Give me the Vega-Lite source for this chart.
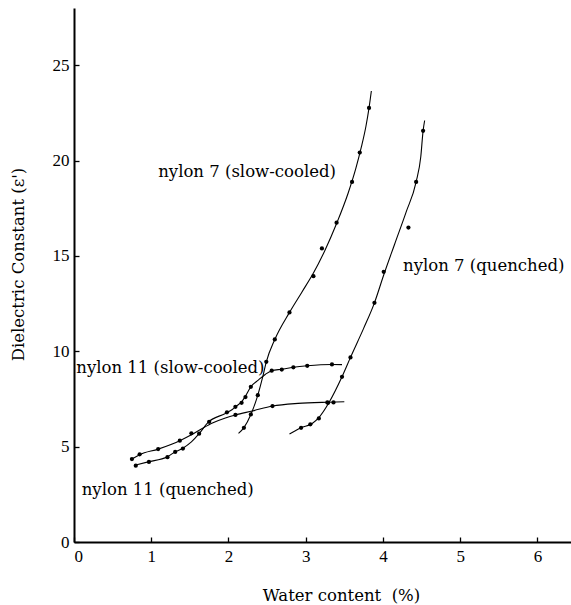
{
  "$schema": "https://vega.github.io/schema/vega-lite/v6.json",
  "width": 497,
  "height": 534,
  "autosize": "none",
  "padding": {"left": 74, "top": 8, "right": 0, "bottom": 63},
  "background": "white",
  "config": {
    "font": "DejaVu Serif",
    "view": {"stroke": null},
    "axis": {
      "grid": false,
      "domainColor": "black",
      "domainWidth": 2,
      "tickColor": "black",
      "tickWidth": 1.3,
      "labelColor": "black",
      "titleColor": "black",
      "labelFont": "Liberation Serif",
      "titleFont": "DejaVu Serif",
      "labelFontSize": 17,
      "titleFontSize": 16.5,
      "titleFontWeight": "normal"
    }
  },
  "datasets": {
    "curves": [
      {"series": "n11s", "x": 0.80, "y": 4.04}, {"series": "n11s", "x": 0.96, "y": 4.2}, {"series": "n11s", "x": 1.21, "y": 4.47}, {"series": "n11s", "x": 1.30, "y": 4.7}, {"series": "n11s", "x": 1.41, "y": 4.92}, {"series": "n11s", "x": 1.52, "y": 5.25}, {"series": "n11s", "x": 1.62, "y": 5.68}, {"series": "n11s", "x": 1.73, "y": 6.25}, {"series": "n11s", "x": 1.96, "y": 6.74}, {"series": "n11s", "x": 2.05, "y": 6.95}, {"series": "n11s", "x": 2.11, "y": 7.15}, {"series": "n11s", "x": 2.17, "y": 7.35}, {"series": "n11s", "x": 2.22, "y": 7.65}, {"series": "n11s", "x": 2.29, "y": 8.14}, {"series": "n11s", "x": 2.39, "y": 8.5}, {"series": "n11s", "x": 2.48, "y": 8.8}, {"series": "n11s", "x": 2.56, "y": 8.98}, {"series": "n11s", "x": 2.69, "y": 9.06}, {"series": "n11s", "x": 2.84, "y": 9.16}, {"series": "n11s", "x": 3.02, "y": 9.24}, {"series": "n11s", "x": 3.34, "y": 9.31}, {"series": "n11s", "x": 3.47, "y": 9.3},
      {"series": "n11q", "x": 0.75, "y": 4.35}, {"series": "n11q", "x": 0.85, "y": 4.58}, {"series": "n11q", "x": 1.09, "y": 4.87}, {"series": "n11q", "x": 1.37, "y": 5.31}, {"series": "n11q", "x": 1.52, "y": 5.62}, {"series": "n11q", "x": 1.66, "y": 5.95}, {"series": "n11q", "x": 1.8, "y": 6.25}, {"series": "n11q", "x": 1.96, "y": 6.5}, {"series": "n11q", "x": 2.09, "y": 6.66}, {"series": "n11q", "x": 2.31, "y": 6.87}, {"series": "n11q", "x": 2.57, "y": 7.13}, {"series": "n11q", "x": 2.9, "y": 7.27}, {"series": "n11q", "x": 3.28, "y": 7.33}, {"series": "n11q", "x": 3.5, "y": 7.35},
      {"series": "n7s", "x": 2.13, "y": 5.7}, {"series": "n7s", "x": 2.2, "y": 6.0}, {"series": "n7s", "x": 2.29, "y": 6.69}, {"series": "n7s", "x": 2.38, "y": 7.7}, {"series": "n7s", "x": 2.44, "y": 8.6}, {"series": "n7s", "x": 2.49, "y": 9.45}, {"series": "n7s", "x": 2.6, "y": 10.62}, {"series": "n7s", "x": 2.79, "y": 12.04}, {"series": "n7s", "x": 2.95, "y": 13.1}, {"series": "n7s", "x": 3.1, "y": 14.1}, {"series": "n7s", "x": 3.25, "y": 15.3}, {"series": "n7s", "x": 3.4, "y": 16.7}, {"series": "n7s", "x": 3.55, "y": 18.3}, {"series": "n7s", "x": 3.65, "y": 19.6}, {"series": "n7s", "x": 3.72, "y": 20.7}, {"series": "n7s", "x": 3.78, "y": 21.8}, {"series": "n7s", "x": 3.82, "y": 22.76}, {"series": "n7s", "x": 3.85, "y": 23.65},
      {"series": "n7q", "x": 2.79, "y": 5.66}, {"series": "n7q", "x": 2.94, "y": 5.99}, {"series": "n7q", "x": 3.08, "y": 6.2}, {"series": "n7q", "x": 3.17, "y": 6.52}, {"series": "n7q", "x": 3.3, "y": 7.3}, {"series": "n7q", "x": 3.47, "y": 8.66}, {"series": "n7q", "x": 3.58, "y": 9.68}, {"series": "n7q", "x": 3.75, "y": 11.2}, {"series": "n7q", "x": 3.89, "y": 12.54}, {"series": "n7q", "x": 4.01, "y": 14.0}, {"series": "n7q", "x": 4.15, "y": 15.6}, {"series": "n7q", "x": 4.3, "y": 17.3}, {"series": "n7q", "x": 4.43, "y": 18.88}, {"series": "n7q", "x": 4.49, "y": 20.2}, {"series": "n7q", "x": 4.52, "y": 21.56}, {"series": "n7q", "x": 4.54, "y": 22.1}
    ],
    "dots": [
      {"series": "n11s", "x": 0.80, "y": 4.0}, {"series": "n11s", "x": 0.97, "y": 4.2}, {"series": "n11s", "x": 1.21, "y": 4.45}, {"series": "n11s", "x": 1.31, "y": 4.72}, {"series": "n11s", "x": 1.41, "y": 4.9}, {"series": "n11s", "x": 1.62, "y": 5.68}, {"series": "n11s", "x": 1.75, "y": 6.3}, {"series": "n11s", "x": 1.98, "y": 6.8}, {"series": "n11s", "x": 2.09, "y": 7.09}, {"series": "n11s", "x": 2.17, "y": 7.3}, {"series": "n11s", "x": 2.22, "y": 7.6}, {"series": "n11s", "x": 2.29, "y": 8.14}, {"series": "n11s", "x": 2.56, "y": 8.98}, {"series": "n11s", "x": 2.69, "y": 9.04}, {"series": "n11s", "x": 2.84, "y": 9.16}, {"series": "n11s", "x": 3.02, "y": 9.24}, {"series": "n11s", "x": 3.34, "y": 9.31},
      {"series": "n11q", "x": 0.75, "y": 4.35}, {"series": "n11q", "x": 0.85, "y": 4.6}, {"series": "n11q", "x": 1.09, "y": 4.87}, {"series": "n11q", "x": 1.37, "y": 5.31}, {"series": "n11q", "x": 1.52, "y": 5.7}, {"series": "n11q", "x": 2.09, "y": 6.66}, {"series": "n11q", "x": 2.57, "y": 7.13}, {"series": "n11q", "x": 3.28, "y": 7.32}, {"series": "n11q", "x": 3.36, "y": 7.32},
      {"series": "n7s", "x": 2.2, "y": 5.99}, {"series": "n7s", "x": 2.29, "y": 6.69}, {"series": "n7s", "x": 2.38, "y": 7.7}, {"series": "n7s", "x": 2.49, "y": 9.45}, {"series": "n7s", "x": 2.6, "y": 10.62}, {"series": "n7s", "x": 2.79, "y": 12.04}, {"series": "n7s", "x": 3.1, "y": 13.94}, {"series": "n7s", "x": 3.21, "y": 15.39}, {"series": "n7s", "x": 3.4, "y": 16.74}, {"series": "n7s", "x": 3.6, "y": 18.88}, {"series": "n7s", "x": 3.7, "y": 20.42}, {"series": "n7s", "x": 3.82, "y": 22.76},
      {"series": "n7q", "x": 2.94, "y": 5.99}, {"series": "n7q", "x": 3.06, "y": 6.17}, {"series": "n7q", "x": 3.17, "y": 6.48}, {"series": "n7q", "x": 3.29, "y": 7.3}, {"series": "n7q", "x": 3.47, "y": 8.66}, {"series": "n7q", "x": 3.58, "y": 9.68}, {"series": "n7q", "x": 3.89, "y": 12.54}, {"series": "n7q", "x": 4.01, "y": 14.17}, {"series": "n7q", "x": 4.33, "y": 16.49}, {"series": "n7q", "x": 4.43, "y": 18.88}, {"series": "n7q", "x": 4.52, "y": 21.56}
    ],
    "labels": [
      {"label": "nylon 7 (slow-cooled)", "x": 1.09, "y": 19.4},
      {"label": "nylon 7 (quenched)", "x": 4.26, "y": 14.47},
      {"label": "nylon 11 (slow-cooled)", "x": 0.03, "y": 9.12},
      {"label": "nylon 11 (quenched)", "x": 0.1, "y": 2.73}
    ]
  },
  "layer": [
    {
      "data": {"name": "curves"},
      "mark": {"type": "line", "interpolate": "monotone", "color": "black", "strokeWidth": 1.1},
      "encoding": {
        "x": {"field": "x", "type": "quantitative", "scale": {"domain": [0, 6.435], "nice": false},
          "axis": {"values": [0, 1, 2, 3, 4, 5, 6], "format": "d", "tickSize": -5, "labelPadding": 11, "title": "Water content\u00a0 (%)", "titleX": 267, "titleY": 53, "titleBaseline": "middle", "titleAlign": "center"}},
        "y": {"field": "y", "type": "quantitative", "scale": {"domain": [0, 28], "nice": false},
          "axis": {"values": [0, 5, 10, 15, 20, 25], "format": "d", "tickSize": -5, "labelPadding": 10, "title": "Dielectric Constant (ε')", "titleX": -56, "titleY": 256, "titleBaseline": "middle", "titleAlign": "center", "titleAngle": -90}},
        "detail": {"field": "series"}
      }
    },
    {
      "data": {"name": "dots"},
      "mark": {"type": "point", "filled": true, "color": "black", "size": 18, "opacity": 1},
      "encoding": {
        "x": {"field": "x", "type": "quantitative"},
        "y": {"field": "y", "type": "quantitative"}
      }
    },
    {
      "data": {"name": "labels"},
      "mark": {"type": "text", "align": "left", "baseline": "middle", "fontSize": 16.5, "color": "black", "font": "DejaVu Serif"},
      "encoding": {
        "x": {"field": "x", "type": "quantitative"},
        "y": {"field": "y", "type": "quantitative"},
        "text": {"field": "label"}
      }
    },
    {
      "mark": {"type": "rule", "color": "black", "strokeWidth": 1.5},
      "encoding": {"y": {"datum": 28}}
    }
  ]
}
